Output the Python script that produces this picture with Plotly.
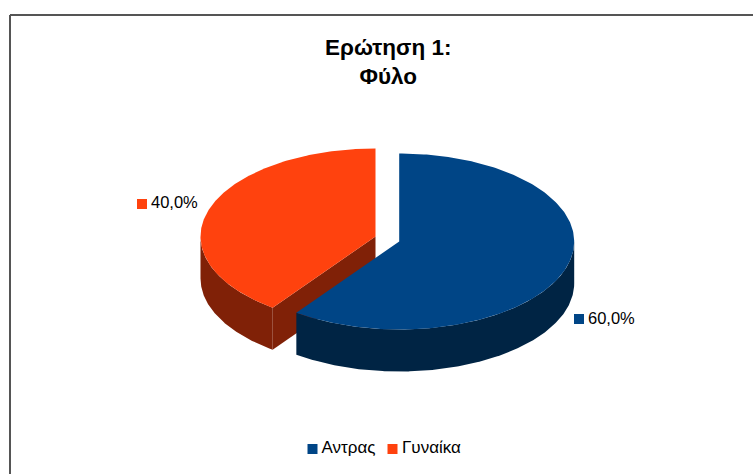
import numpy as np
import plotly.graph_objects as go

categories = ["Αντρας", "Γυναίκα"]
values = [60.0, 40.0]
labels = ["60,0%", "40,0%"]
title_lines = ["Ερώτηση 1:", "Φύλο"]
top_colors = ["#004586", "#ff420e"]
side_colors = ["#002444", "#802107"]

W, H = 753, 474
RX, RY, DEPTH = 175, 88, 42
CENTERS = [(399.2, 241.5), (375.5, 236.5)]
LABEL_POS = [(579, 319), (142, 204)]
LABEL_TEXT_POS = [(588, 319.5), (151, 203.5)]
LEGEND_POS = [(312.5, 449), (392.5, 449)]
LEGEND_TEXT_POS = [(321.5, 449), (402, 449)]

total = sum(values)
spans = []
start = 0.0
for v in values:
    spans.append((start, start + 360.0 * v / total))
    start += 360.0 * v / total


def rim(c, a0, a1, dy=0.0):
    t = np.radians(np.linspace(a0, a1, 240))
    return c[0] + RX * np.sin(t), c[1] - RY * np.cos(t) + dy


def add_poly(fig, x, y, color):
    fig.add_trace(go.Scatter(x=list(x), y=list(y), mode="lines", fill="toself", fillcolor=color,
                             line=dict(width=0, color=color), hoverinfo="skip", showlegend=False))


def draw_slice(fig, i):
    c = CENTERS[i]
    a0, a1 = spans[i]
    # visible outer wall: the part of the rim on the front half (90..270 degrees)
    w0, w1 = max(a0, 90), min(a1, 270)
    if w1 > w0:
        xt, yt = rim(c, w0, w1)
        xb, yb = rim(c, w1, w0, DEPTH)
        add_poly(fig, np.r_[xt, xb], np.r_[yt, yb], side_colors[i])
    # visible cut face, on the slice edge that faces the viewer
    if 180 < a0 < 270:
        xe, ye = rim(c, a0, a0)
        add_poly(fig, [c[0], xe[0], xe[0], c[0]], [c[1], ye[0], ye[0] + DEPTH, c[1] + DEPTH], side_colors[i])
    # top face
    xt, yt = rim(c, a0, a1)
    add_poly(fig, np.r_[c[0], xt, c[0]], np.r_[c[1], yt, c[1]], top_colors[i])


def add_key(fig, pos, text_pos, text, color, size):
    fig.add_trace(go.Scatter(x=[pos[0]], y=[pos[1]], mode="markers",
                             marker=dict(symbol="square", size=10, color=color, line=dict(width=0)),
                             hoverinfo="skip", showlegend=False))
    fig.add_trace(go.Scatter(x=[text_pos[0]], y=[text_pos[1]], mode="text",
                             text=[text], textposition="middle right",
                             textfont=dict(family="Liberation Sans", size=size, color="#000000"),
                             hoverinfo="skip", showlegend=False))


fig = go.Figure()
for i in [1, 0]:
    draw_slice(fig, i)

for i, cat in enumerate(categories):
    add_key(fig, LABEL_POS[i], LABEL_TEXT_POS[i], labels[i], top_colors[i], 16.5)
    add_key(fig, LEGEND_POS[i], LEGEND_TEXT_POS[i], cat, top_colors[i], 17)

fig.add_annotation(x=388.5, y=62, xref="x", yref="y", showarrow=False, align="center",
                   text="<b>" + "<br>".join(title_lines) + "</b>",
                   font=dict(family="Liberation Sans", size=22.5, color="#000000"))

frame = dict(color="#555555", width=2)
fig.add_shape(type="line", x0=10, x1=W, y0=15, y1=15, line=frame)
fig.add_shape(type="line", x0=10, x1=10, y0=15, y1=H, line=frame)

fig.update_layout(width=W, height=H, margin=dict(l=0, r=0, t=0, b=0), autosize=False,
                  paper_bgcolor="#ffffff", plot_bgcolor="#ffffff", showlegend=False,
                  xaxis=dict(range=[0, W], visible=False, fixedrange=True),
                  yaxis=dict(range=[H, 0], visible=False, fixedrange=True))
fig.write_html("out.html", config={"displayModeBar": False},
               post_script="document.body.style.margin='0';document.body.style.overflow='hidden';")
